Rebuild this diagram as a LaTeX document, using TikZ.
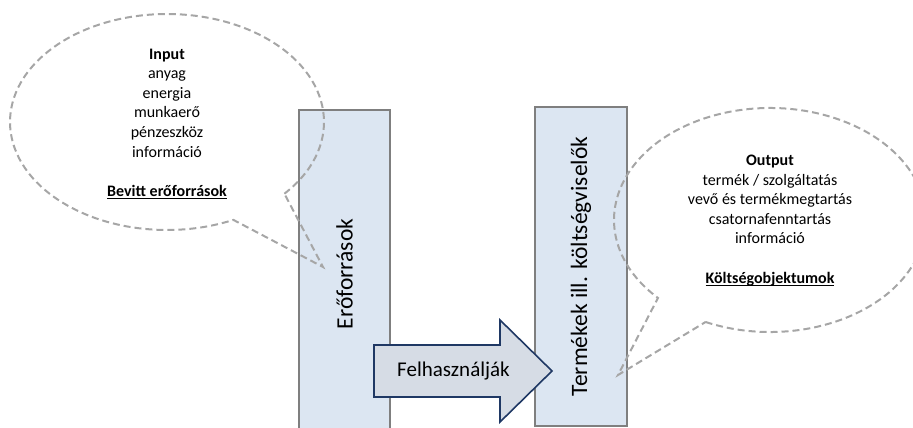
\documentclass[tikz,border=0pt]{standalone}
\usepackage{fontspec}
\setmainfont{Carlito}
\newcommand{\ulbold}[1]{\setbox0=\hbox{\textbf{#1}}\rlap{\rule[-3pt]{\wd0}{1.3pt}}\box0}
\definecolor{boxfill}{HTML}{DCE6F2}
\definecolor{boxline}{HTML}{7F7F7F}
\definecolor{arrowfill}{HTML}{D6DCE5}
\definecolor{arrowline}{HTML}{1F3864}
\definecolor{bubbleline}{HTML}{A6A6A6}
\tikzstyle{colbox} = [rectangle, draw=boxline, fill=boxfill, line width=2pt, text centered, inner sep=0pt, font=\fontsize{23.5pt}{28pt}\selectfont]
\tikzstyle{bubble} = [draw=bubbleline, line width=2pt, dash pattern=on 7pt off 4pt, line join=miter]
\tikzstyle{bubbletext} = [align=center, inner sep=0pt, font=\fontsize{16pt}{19.6pt}\selectfont]
\tikzstyle{bigarrow} = [draw=arrowline, fill=arrowfill, line width=1.6pt, line join=miter]

\begin{document}
\begin{tikzpicture}[x=1pt, y=-1pt]
\useasboundingbox (0,0) rectangle (913,428);

%% NODES

\node (res) [colbox, rotate=90, minimum width=328pt, minimum height=91pt] at (344.5,274) {Erőforrások};
\node (obj) [colbox, rotate=90, minimum width=319pt, minimum height=92pt] at (581,266.5) {Termékek ill. költségviselők};

\coordinate (incen) at (167,122);
\coordinate (intip) at (323,267);
\coordinate (outcen) at (770,220);
\coordinate (outtip) at (618,375);

\node (intext) [bubbletext] at (167,124) {\textbf{Input}\\anyag\\energia\\munkaerő\\pénzeszköz\\információ\\[19.6pt]\ulbold{Bevitt erőforrások}};
\node (outtext) [bubbletext] at (770,220.5) {\textbf{Output}\\termék / szolgáltatás\\vevő és termékmegtartás\\csatornafenntartás\\információ\\[19.6pt]\ulbold{Költségobjektumok}};

%% ARROWS

\draw [bigarrow] (374,345) -- (500,345) -- (500,320) -- (552,371) -- (500,422) -- (500,397) -- (374,397) -- cycle;
\node (use) [font=\fontsize{21pt}{25pt}\selectfont] at (453.5,371) {Felhasználják};

\draw [bubble] (incen) ++(-41.6:157pt and 108pt) coordinate (in1)
  arc[start angle=-41.6, end angle=295, x radius=157pt, y radius=108pt] -- (intip) -- (in1);
\draw [bubble] (outcen) ++(-114.4:156pt and 112pt) coordinate (out1)
  arc[start angle=-114.4, end angle=224.1, x radius=156pt, y radius=112pt] -- (outtip) -- (out1);

\end{tikzpicture}
\end{document}
